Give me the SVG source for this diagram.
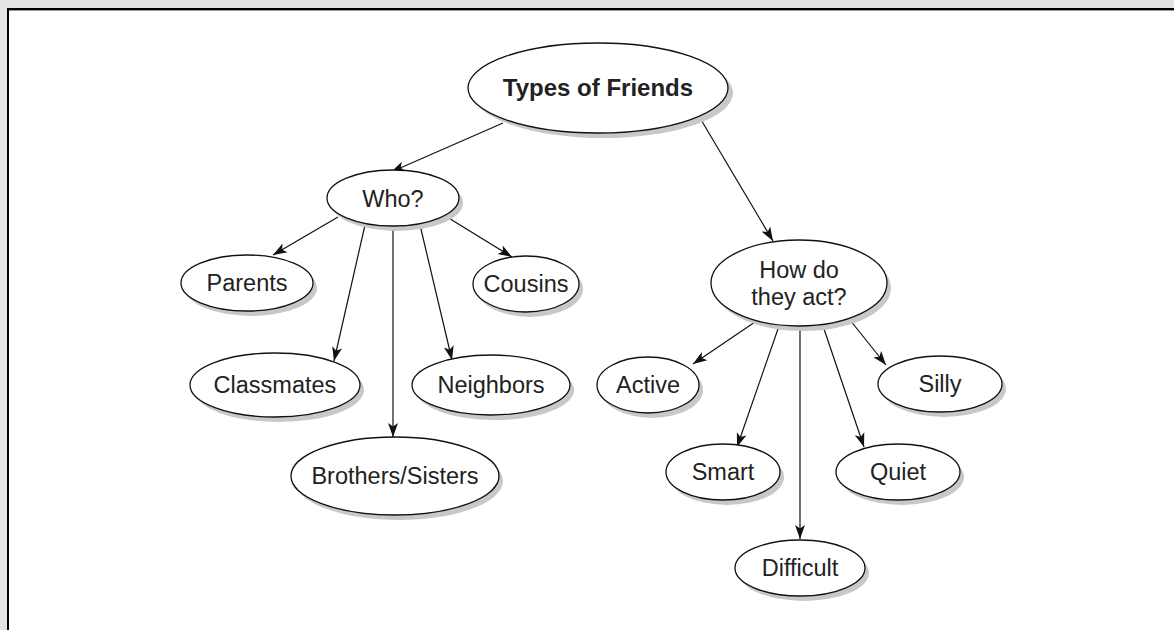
<svg xmlns="http://www.w3.org/2000/svg" width="1174" height="630" viewBox="0 0 1174 630">
<defs>
<marker id="arr" markerWidth="16" markerHeight="12" refX="14" refY="5.5" orient="auto" markerUnits="userSpaceOnUse">
<path d="M0,0.5 L14,5.5 L0,10.5 L3.5,5.5 Z" fill="#111"/>
</marker>
</defs>
<style>
.sh{fill:#c8c8c8;stroke:none}
.nd{fill:#fff;stroke:#111;stroke-width:1.3}
.t{font-family:"Liberation Sans",Arial,sans-serif;font-size:23.5px;fill:#222;text-anchor:middle}
.tb{font-family:"Liberation Sans",Arial,sans-serif;font-size:24px;font-weight:bold;fill:#222;text-anchor:middle}
.c{stroke:#111;stroke-width:1.2;fill:none;marker-end:url(#arr)}
</style>
<rect x="0" y="0" width="1174" height="630" fill="#e4e4e4"/>
<rect x="7" y="8" width="1167" height="622" fill="#fff"/>
<line x1="8" y1="9" x2="1174" y2="9" stroke="#000" stroke-width="2"/>
<line x1="8" y1="10.5" x2="1174" y2="10.5" stroke="#999" stroke-width="1"/>
<line x1="8" y1="8" x2="8" y2="630" stroke="#000" stroke-width="2"/>
<g id="connectors">
<line class="c" x1="503" y1="123" x2="391" y2="172"/>
<line class="c" x1="700" y1="118" x2="773" y2="241"/>
<line class="c" x1="338" y1="217" x2="273" y2="255"/>
<line class="c" x1="365" y1="225" x2="334" y2="361"/>
<line class="c" x1="393" y1="227" x2="393" y2="437"/>
<line class="c" x1="420" y1="225" x2="452" y2="360"/>
<line class="c" x1="447" y1="217" x2="512" y2="257"/>
<line class="c" x1="755" y1="322" x2="693" y2="364"/>
<line class="c" x1="779" y1="326" x2="737" y2="447"/>
<line class="c" x1="800" y1="327" x2="800" y2="539"/>
<line class="c" x1="823" y1="326" x2="864" y2="447"/>
<line class="c" x1="850" y1="320" x2="886" y2="365"/>
</g>
<g id="types">
<ellipse class="sh" cx="603" cy="93" rx="130" ry="45"/>
<ellipse class="nd" cx="598" cy="88" rx="130" ry="45"/>
<text class="tb" x="598" y="96">Types of Friends</text>
</g>
<g id="who">
<ellipse class="sh" cx="397" cy="203" rx="66" ry="28"/>
<ellipse class="nd" cx="393" cy="198" rx="66" ry="28"/>
<text class="t" x="393" y="207">Who?</text>
</g>
<g id="parents">
<ellipse class="sh" cx="251" cy="288" rx="66" ry="28"/>
<ellipse class="nd" cx="247" cy="283" rx="66" ry="28"/>
<text class="t" x="247" y="291">Parents</text>
</g>
<g id="cousins">
<ellipse class="sh" cx="530" cy="289" rx="53" ry="28"/>
<ellipse class="nd" cx="526" cy="284" rx="53" ry="28"/>
<text class="t" x="526" y="292">Cousins</text>
</g>
<g id="classmates">
<ellipse class="sh" cx="279" cy="390" rx="85" ry="32"/>
<ellipse class="nd" cx="275" cy="385" rx="85" ry="32"/>
<text class="t" x="275" y="393">Classmates</text>
</g>
<g id="neighbors">
<ellipse class="sh" cx="495" cy="390" rx="79" ry="30"/>
<ellipse class="nd" cx="491" cy="385" rx="79" ry="30"/>
<text class="t" x="491" y="393">Neighbors</text>
</g>
<g id="brothers">
<ellipse class="sh" cx="399" cy="481" rx="104" ry="39"/>
<ellipse class="nd" cx="395" cy="476" rx="104" ry="39"/>
<text class="t" x="395" y="484">Brothers/Sisters</text>
</g>
<g id="how">
<ellipse class="sh" cx="803" cy="288" rx="88" ry="43"/>
<ellipse class="nd" cx="799" cy="283" rx="88" ry="43"/>
<text class="t" x="799" y="278">How do</text>
<text class="t" x="799" y="305">they act?</text>
</g>
<g id="active">
<ellipse class="sh" cx="652" cy="390" rx="51" ry="28"/>
<ellipse class="nd" cx="648" cy="385" rx="51" ry="28"/>
<text class="t" x="648" y="393">Active</text>
</g>
<g id="silly">
<ellipse class="sh" cx="944" cy="389" rx="62" ry="28"/>
<ellipse class="nd" cx="940" cy="384" rx="62" ry="28"/>
<text class="t" x="940" y="392">Silly</text>
</g>
<g id="smart">
<ellipse class="sh" cx="727" cy="477" rx="57" ry="28"/>
<ellipse class="nd" cx="723" cy="472" rx="57" ry="28"/>
<text class="t" x="723" y="480">Smart</text>
</g>
<g id="quiet">
<ellipse class="sh" cx="902" cy="477" rx="62" ry="28"/>
<ellipse class="nd" cx="898" cy="472" rx="62" ry="28"/>
<text class="t" x="898" y="480">Quiet</text>
</g>
<g id="difficult">
<ellipse class="sh" cx="804" cy="573" rx="65" ry="28"/>
<ellipse class="nd" cx="800" cy="568" rx="65" ry="28"/>
<text class="t" x="800" y="576">Difficult</text>
</g>
</svg>
